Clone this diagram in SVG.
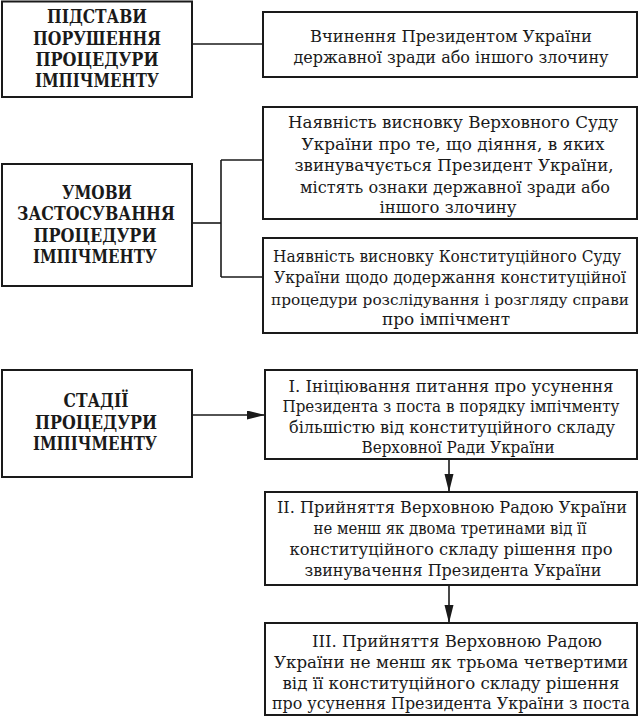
<svg xmlns="http://www.w3.org/2000/svg" width="638" height="717" viewBox="0 0 638 717">
<style>
rect{fill:#fff;stroke:#1a1a1a;stroke-width:2}
.h{font-family:"DejaVu Serif","Liberation Serif",serif;font-weight:bold;font-size:18px;text-anchor:middle;fill:#1a1a1a}
.t{font-family:"DejaVu Serif","Liberation Serif",serif;font-size:16px;text-anchor:middle;fill:#1a1a1a}
.s{font-size:15px}
.c{stroke:#1a1a1a;stroke-width:1.6;fill:none}
</style>
<defs>
<marker id="ar" markerUnits="userSpaceOnUse" markerWidth="18" markerHeight="10" refX="18" refY="4.5" orient="auto">
<path d="M0,0 L18,4.5 L0,9 z" fill="#1a1a1a"/>
</marker>
</defs>
<g id="connectors">
<line class="c" x1="192" y1="44" x2="263" y2="44"/>
<line class="c" x1="192" y1="223" x2="221" y2="223"/>
<line class="c" x1="221" y1="160" x2="221" y2="277"/>
<line class="c" x1="221" y1="160" x2="263" y2="160"/>
<line class="c" x1="221" y1="277" x2="263" y2="277"/>
<line class="c" x1="192" y1="415" x2="265" y2="415" marker-end="url(#ar)"/>
<line class="c" x1="449" y1="459" x2="449" y2="492" marker-end="url(#ar)"/>
<line class="c" x1="449" y1="585" x2="449" y2="623" marker-end="url(#ar)"/>
</g>
<g id="n1">
<rect x="2" y="1.5" width="190" height="95.5"/>
<text class="h" x="97" y="22.5" textLength="100" lengthAdjust="spacingAndGlyphs">ПІДСТАВИ</text>
<text class="h" x="97" y="44.5" textLength="128" lengthAdjust="spacingAndGlyphs">ПОРУШЕННЯ</text>
<text class="h" x="97" y="65.5" textLength="123" lengthAdjust="spacingAndGlyphs">ПРОЦЕДУРИ</text>
<text class="h" x="97" y="87" textLength="124" lengthAdjust="spacingAndGlyphs">ІМПІЧМЕНТУ</text>
</g>
<g id="n2">
<rect x="263" y="12" width="374" height="65"/>
<text class="t" x="451" y="41.5" textLength="282" lengthAdjust="spacingAndGlyphs">Вчинення Президентом України</text>
<text class="t" x="451" y="63" textLength="315" lengthAdjust="spacingAndGlyphs">державної зради або іншого злочину</text>
</g>
<g id="n3">
<rect x="2" y="164" width="190" height="122"/>
<text class="h" x="97" y="198.5" textLength="70" lengthAdjust="spacingAndGlyphs">УМОВИ</text>
<text class="h" x="96" y="220" textLength="158" lengthAdjust="spacingAndGlyphs">ЗАСТОСУВАННЯ</text>
<text class="h" x="95" y="241.5" textLength="123" lengthAdjust="spacingAndGlyphs">ПРОЦЕДУРИ</text>
<text class="h" x="95" y="263" textLength="124" lengthAdjust="spacingAndGlyphs">ІМПІЧМЕНТУ</text>
</g>
<g id="n4">
<rect x="263" y="107" width="374" height="112"/>
<text class="t" x="453" y="128" textLength="330" lengthAdjust="spacingAndGlyphs">Наявність висновку Верховного Суду</text>
<text class="t" x="453" y="149.5" textLength="303" lengthAdjust="spacingAndGlyphs">України про те, що діяння, в яких</text>
<text class="t" x="454" y="171" textLength="319" lengthAdjust="spacingAndGlyphs">звинувачується Президент України,</text>
<text class="t" x="455" y="192.5" textLength="310" lengthAdjust="spacingAndGlyphs">містять ознаки державної зради або</text>
<text class="t" x="448" y="213" textLength="137" lengthAdjust="spacingAndGlyphs">іншого злочину</text>
</g>
<g id="n5">
<rect x="263" y="238" width="374" height="95"/>
<text class="t" x="447" y="261.5" textLength="348" lengthAdjust="spacingAndGlyphs">Наявність висновку Конституційного Суду</text>
<text class="t" x="450" y="283" textLength="352" lengthAdjust="spacingAndGlyphs">України щодо додержання конституційної</text>
<text class="t s" x="450" y="304.5" textLength="358" lengthAdjust="spacingAndGlyphs">процедури розслідування і розгляду справи</text>
<text class="t" x="446" y="325" textLength="128" lengthAdjust="spacingAndGlyphs">про імпічмент</text>
</g>
<g id="n6">
<rect x="2" y="370" width="190" height="107"/>
<text class="h" x="96" y="407" textLength="65" lengthAdjust="spacingAndGlyphs">СТАДІЇ</text>
<text class="h" x="96" y="429" textLength="122" lengthAdjust="spacingAndGlyphs">ПРОЦЕДУРИ</text>
<text class="h" x="95" y="450" textLength="124" lengthAdjust="spacingAndGlyphs">ІМПІЧМЕНТУ</text>
</g>
<g id="n7">
<rect x="265" y="370" width="372" height="89"/>
<text class="t" x="451" y="391.5" textLength="325" lengthAdjust="spacingAndGlyphs">І. Ініціювання питання про усунення</text>
<text class="t" x="451" y="412" textLength="337" lengthAdjust="spacingAndGlyphs">Президента з поста в порядку імпічменту</text>
<text class="t" x="452" y="432.5" textLength="326" lengthAdjust="spacingAndGlyphs">більшістю від конституційного складу</text>
<text class="t" x="458" y="453" textLength="193" lengthAdjust="spacingAndGlyphs">Верховної Ради України</text>
</g>
<g id="n8">
<rect x="265" y="492" width="372" height="93"/>
<text class="t" x="452" y="513" textLength="350" lengthAdjust="spacingAndGlyphs">ІІ. Прийняття Верховною Радою України</text>
<text class="t" x="450" y="534" textLength="273" lengthAdjust="spacingAndGlyphs">не менш як двома третинами від її</text>
<text class="t" x="451" y="555" textLength="323" lengthAdjust="spacingAndGlyphs">конституційного складу рішення про</text>
<text class="t" x="453" y="576" textLength="297" lengthAdjust="spacingAndGlyphs">звинувачення Президента України</text>
</g>
<g id="n9">
<rect x="265" y="623" width="372" height="92"/>
<text class="t" x="457" y="646.5" textLength="290" lengthAdjust="spacingAndGlyphs">ІІІ. Прийняття Верховною Радою</text>
<text class="t" x="451" y="667.5" textLength="354" lengthAdjust="spacingAndGlyphs">України не менш як трьома четвертими</text>
<text class="t" x="451" y="688.5" textLength="337" lengthAdjust="spacingAndGlyphs">від її конституційного складу рішення</text>
<text class="t" x="451" y="709" textLength="358" lengthAdjust="spacingAndGlyphs">про усунення Президента України з поста</text>
</g>
</svg>
